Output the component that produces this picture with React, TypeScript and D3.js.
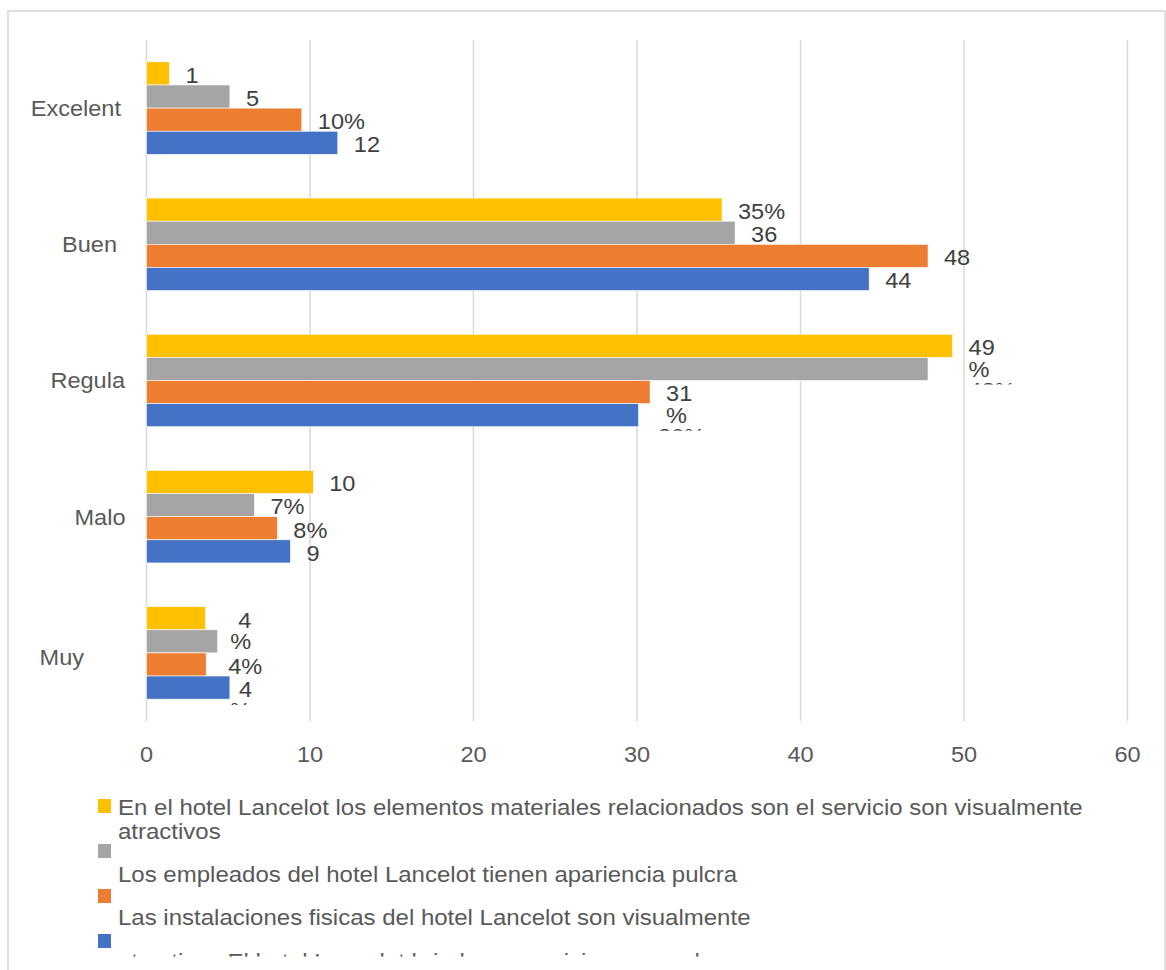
import React from "react";
import * as d3 from "d3";

// ---------- data ----------
const categories = ["Excelent", "Buen", "Regula", "Malo", "Muy"];
const seriesNames = [
  "En el hotel Lancelot los elementos materiales relacionados son el servicio son visualmente atractivos",
  "Los empleados del hotel Lancelot tienen apariencia pulcra",
  "Las instalaciones fisicas del hotel Lancelot son visualmente atractivos",
  "El hotel Lancelot brinda un servicio esmerado",
];
const seriesColors = ["#FFC000", "#A5A5A5", "#ED7D31", "#4472C4"];
const valuesYellow = [1.4, 35.2, 49.3, 10.2, 3.6];
const valuesGray = [5.1, 36.0, 47.8, 6.6, 4.35];
const valuesOrange = [9.5, 47.8, 30.8, 8.0, 3.65];
const valuesBlue = [11.7, 44.2, 30.1, 8.8, 5.1];
const seriesValues = [valuesYellow, valuesGray, valuesOrange, valuesBlue];
// visible (wrapped / clipped) data-label text per bar
const labelsYellow = [["1"], ["35%"], ["49", "%"], ["10"], ["4", "%"]];
const labelsGray = [["5"], ["36"], [], ["7%"], []];
const labelsOrange = [["10%"], ["48"], ["31", "%"], ["8%"], ["4%"]];
const labelsBlue = [["12"], ["44"], [], ["9"], ["4"]];
const seriesLabels = [labelsYellow, labelsGray, labelsOrange, labelsBlue];
const xTicks = [0, 10, 20, 30, 40, 50, 60];
const legendLines = [
  ["En el hotel Lancelot los elementos materiales relacionados son el servicio son visualmente", "atractivos"],
  ["Los empleados del hotel Lancelot tienen apariencia pulcra"],
  ["Las instalaciones fisicas del hotel Lancelot son visualmente"],
  [],
];
const legendClippedLine = "atractivos    El hotel Lancelot brinda un servicio esmerado";

// ---------- layout ----------
const W = 1166;
const H = 970;
const PLOT = { left: 146.5, right: 1127.5, top: 40, bottom: 721 };
const FONT = "'Liberation Sans', Arial, sans-serif";
const STRETCH = 1.07;
const LEGEND_STRETCH = 1.092;
const LINE = 21.5;
const CAT_LABEL_RIGHT = 121;
const CAT_SHIFT = [0, -4, 4, 4.5, -37];
const CAT_DY = [0, 0, 0, 0, 4];
const LABEL_NUDGE: Record<string, number[]> = {
  "0-4": [17, 9],
  "2-4": [6],
  "3-4": [-7],
};
const FRAGMENTS = [
  { s: 0, c: 2, text: "48%", line: 2, dx: 0 },
  { s: 2, c: 2, text: "30%", line: 2, dx: -8 },
  { s: 3, c: 4, text: "%", line: 1, dx: -16 },
];

function T({ x, y, children, anchor = "start", fill = "#595959", size = 22, stretch = STRETCH }: any) {
  return (
    <text
      transform={`translate(${x},${y + 7.8}) scale(${stretch},1)`}
      textAnchor={anchor}
      fontFamily={FONT}
      fontSize={size}
      fill={fill}
    >
      {children}
    </text>
  );
}

export default function App() {
  const x = d3.scaleLinear().domain([0, 60]).range([PLOT.left, PLOT.right]);
  const y0 = d3
    .scaleBand<string>()
    .domain(categories)
    .range([PLOT.top, PLOT.bottom])
    .paddingInner(0.321)
    .paddingOuter(0.1605);
  const y1 = d3
    .scaleBand<number>()
    .domain(d3.range(seriesValues.length))
    .range([0, y0.bandwidth()]);

  const barY = (s: number, c: number) => (y0(categories[c]) as number) + (y1(s) as number);
  const barCenter = (s: number, c: number) => barY(s, c) + y1.bandwidth() / 2 + 1.5;

  return (
    <svg
      width={W}
      height={H}
      style={{ position: "absolute", left: 0, top: 0, background: "#fff" }}
    >
      <defs>
        {FRAGMENTS.map((f, i) => {
          const cy = barCenter(f.s, f.c) + f.line * LINE;
          return (
            <clipPath id={`frag${i}`} key={i}>
              <rect x={0} y={cy - 8.5} width={W} height={2.8} />
            </clipPath>
          );
        })}
        <clipPath id="legclip">
          <rect x={0} y={950} width={W} height={6.5} />
        </clipPath>
      </defs>
      <rect x={0} y={0} width={W} height={H} fill="#fff" />
      <rect x={8} y={11} width={1157} height={1000} fill="none" stroke="#d9d9d9" strokeWidth={1.6} />

      {xTicks.map((t) => (
        <line
          key={t}
          x1={x(t)}
          x2={x(t)}
          y1={PLOT.top}
          y2={PLOT.bottom}
          stroke="#d9d9d9"
          strokeWidth={1.5}
        />
      ))}

      {seriesValues.map((vals, s) =>
        vals.map((v, c) => (
          <rect
            key={`${s}-${c}`}
            x={x(0)}
            y={barY(s, c)}
            width={x(v) - x(0)}
            height={y1.bandwidth()}
            fill={seriesColors[s]}
            stroke="#ffffff"
            strokeWidth={0.6}
          />
        ))
      )}

      {seriesLabels.map((labs, s) =>
        labs.map((lines, c) =>
          lines.map((ln, li) => {
            const nudge = (LABEL_NUDGE[`${s}-${c}`] || [])[li] || 0;
            return (
              <T
                key={`${s}-${c}-${li}`}
                x={x(seriesValues[s][c]) + 16 + nudge}
                y={barCenter(s, c) + li * LINE}
                fill="#404040"
              >
                {ln}
              </T>
            );
          })
        )
      )}
      {FRAGMENTS.map((f, i) => (
        <g key={i} clipPath={`url(#frag${i})`}>
          <T x={x(seriesValues[f.s][f.c]) + 16 + f.dx} y={barCenter(f.s, f.c) + f.line * LINE} fill="#404040">
            {f.text}
          </T>
        </g>
      ))}

      {categories.map((cat, c) => (
        <T
          key={cat}
          x={CAT_LABEL_RIGHT + CAT_SHIFT[c]}
          y={(y0(cat) as number) + y0.bandwidth() / 2 + CAT_DY[c]}
          anchor="end"
        >
          {cat}
        </T>
      ))}

      {xTicks.map((t) => (
        <T key={t} x={x(t)} y={754} anchor="middle">
          {d3.format("d")(t)}
        </T>
      ))}

      {seriesColors.map((col, i) => (
        <rect key={i} x={98} y={799 + i * 45} width={13} height={14} fill={col} />
      ))}
      {legendLines.map((lines, i) =>
        lines.map((ln, li) => (
          <T key={`${i}-${li}`} x={118} y={[807, 874, 917, 960][i] + li * 24} stretch={LEGEND_STRETCH}>
            {ln}
          </T>
        ))
      )}
      <g clipPath="url(#legclip)">
        <T x={118} y={961} stretch={LEGEND_STRETCH}>
          {legendClippedLine}
        </T>
      </g>
      <title>{seriesNames.join(" | ")}</title>
    </svg>
  );
}
